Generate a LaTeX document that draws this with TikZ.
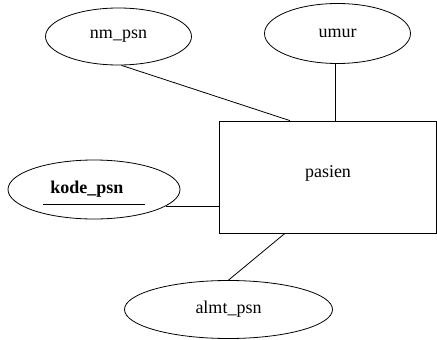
\documentclass[tikz,border=0pt]{standalone}
\usepackage{fontspec}
\setmainfont{Liberation Serif}
\usetikzlibrary{shapes.geometric}
\begin{document}
\begin{tikzpicture}[x=1pt,y=-1pt,
  attr/.style={draw,ellipse,inner sep=0pt,line width=0.8pt,font=\fontsize{18}{20}\selectfont},
  ent/.style={draw,rectangle,inner sep=0pt,line width=0.8pt,font=\fontsize{18}{20}\selectfont},
  conn/.style={line width=0.8pt}]
\useasboundingbox (0,0) rectangle (437,340);
\node[ent,minimum width=217pt,minimum height=112pt] (rect) at (327.8,177) {};
\node[font=\fontsize{18}{20}\selectfont] (lbl) at (328,173) {pasien};
\node[attr,minimum width=146pt,minimum height=57pt] (nm) at (118.5,36.5) {nm\_psn};
\node[attr,minimum width=146pt,minimum height=60pt] (umur) at (337.5,33.5) {umur};
\node[attr,minimum width=172pt,minimum height=59pt] (kode) at (94,189.5) {\bfseries kode\_psn\hspace*{14pt}};
\node[attr,minimum width=208pt,minimum height=58pt] (almt) at (228.5,309.5) {almt\_psn};
\draw[line width=1.2pt] ([shift={(-51pt,-15pt)}]kode.center) -- ([shift={(51pt,-15pt)}]kode.center);
\draw[conn] (nm.-84) -- ([xshift=71pt]rect.north west);
\draw[conn] (umur.-94) -- (umur.-94 |- rect.north);
\draw[conn] (kode.-13) -- (kode.-13 -| rect.west);
\draw[conn] (almt.north) -- ([xshift=66pt]rect.south west);
\end{tikzpicture}
\end{document}
